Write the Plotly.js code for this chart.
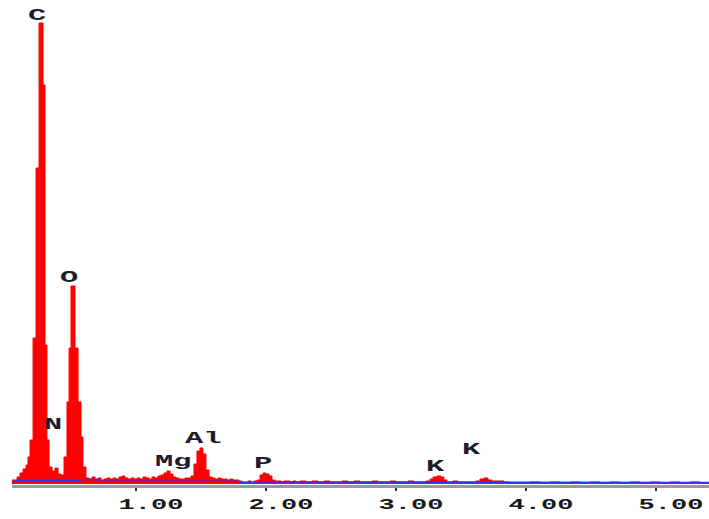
<!DOCTYPE html>
<html>
<head>
<meta charset="utf-8">
<script src="https://cdn.plot.ly/plotly-3.0.1.min.js"></script>
<style>
  html, body { margin: 0; padding: 0; background: #fff; }
  #chart { width: 709px; height: 519px; }
  g.xtick { transform-box: fill-box; transform-origin: center; transform: translateX(15px) scaleX(1.8); }
  .annotation-text { transform-box: fill-box; transform-origin: center; transform: scaleX(1.9); }
</style>
</head>
<body>
<div id="chart"></div>
<script>
// Spectrum as step segments: start energy (keV) and counts of each segment
const energyKeV = [
  0.046, 0.085, 0.108, 0.131, 0.154, 0.169, 0.185, 0.208, 0.231, 0.254,
  0.285, 0.300, 0.315, 0.331, 0.354, 0.377, 0.400, 0.423, 0.446, 0.469,
  0.485, 0.500, 0.531, 0.554, 0.577, 0.592,
  0.615, 0.638, 0.662, 0.685, 0.708, 0.731, 0.754, 0.777, 0.800, 0.823,
  0.846, 0.869, 0.892, 0.915, 0.938, 0.962, 0.985, 1.008, 1.031, 1.054,
  1.077, 1.100, 1.123, 1.146, 1.169, 1.192, 1.215, 1.238, 1.262, 1.285,
  1.308, 1.331, 1.354, 1.377, 1.400, 1.423, 1.446, 1.469, 1.492, 1.515,
  1.538, 1.562, 1.585, 1.608, 1.631, 1.654, 1.677, 1.700, 1.723, 1.746,
  1.769, 1.792, 1.815, 1.838, 1.862, 1.885, 1.908, 1.931, 1.954, 1.977,
  2.000, 2.023, 2.046, 2.069, 2.092, 2.115, 2.138, 2.162, 2.185, 2.208,
  2.231, 2.262, 2.308, 2.354, 2.400, 2.446, 2.492, 2.538, 2.585, 2.631,
  2.677, 2.723, 2.769, 2.815, 2.862, 2.908, 2.954, 3.000, 3.046, 3.092,
  3.138, 3.185, 3.231, 3.262, 3.285, 3.315, 3.346, 3.369, 3.392, 3.438,
  3.477, 3.523, 3.569, 3.615, 3.646, 3.677, 3.708, 3.738, 3.785, 3.831,
  3.877, 3.954, 4.031, 4.108, 4.185, 4.262, 4.338, 4.415, 4.492, 4.569,
  4.646, 4.723, 4.800, 4.877, 4.954, 5.031, 5.108, 5.185, 5.262, 5.338,
  5.410
];
const counts = [
  40, 70, 110, 150, 190, 270, 440, 1460, 3160, 4610,
  3990, 1390, 440, 170, 130, 160, 100, 90, 270, 820,
  1360, 1980, 1360, 820, 470, 170,
  60, 50, 70, 50, 60, 40, 50, 60, 50, 60,
  50, 70, 80, 60, 50, 60, 50, 60, 50, 70,
  60, 50, 70, 60, 80, 90, 110, 130, 100, 70,
  60, 50, 50, 60, 60, 80, 200, 330, 360, 300,
  140, 70, 60, 50, 60, 50, 50, 40, 50, 40,
  40, 30, 20, 20, 30, 20, 30, 40, 90, 110,
  100, 80, 40, 30, 30, 20, 30, 30, 20, 30,
  20, 30, 20, 30, 20, 30, 20, 20, 30, 20,
  30, 20, 20, 30, 20, 20, 30, 20, 20, 30,
  20, 20, 30, 50, 70, 80, 70, 40, 20, 30,
  20, 20, 20, 30, 50, 60, 40, 30, 30, 20,
  10, 10, 20, 10, 20, 10, 20, 10, 20, 10,
  20, 10, 20, 10, 20, 10, 20, 10, 20, 10,
  10
];

// Background fit (blue line)
const bgEnergyKeV = [0.046, 0.085, 0.56, 0.60, 0.70, 0.72, 1.78, 1.82, 1.92, 1.96, 2.20, 5.41];
const bgCounts    = [0,     35,    35,   45,   45,   30,   28,   15,   15,   20,   20,   14];

// Peak labels
const peakLabels = ["C", "O", "N", "Mg", "Al", "P", "K", "K"];
const peakLabelX = [0.238, 0.488, 0.358, 1.285, 1.515, 1.977, 3.304, 3.581];
const peakLabelY = [4680, 2060, 595, 220, 450, 200, 170, 345];

// Axis ticks
const tickValues = [1, 2, 3, 4, 5];
const tickLabels = ["1.00", "2.00", "3.00", "4.00", "5.00"];

const labelFont = { family: "Liberation Mono, Courier New, monospace", size: 16, color: "#1c1c2c", weight: "bold" };

const traces = [
  {
    type: "scatter", mode: "lines",
    x: energyKeV, y: counts,
    line: { shape: "hv", color: "rgb(255,0,0)", width: 1 },
    fill: "tozeroy", fillcolor: "rgb(255,0,0)",
    hoverinfo: "skip"
  },
  {
    type: "scatter", mode: "lines",
    x: bgEnergyKeV, y: bgCounts,
    line: { color: "rgb(50,50,255)", width: 1.5 },
    hoverinfo: "skip"
  }
];

const annotations = peakLabels.map((t, i) => ({
  text: t, x: peakLabelX[i], y: peakLabelY[i], xref: "x", yref: "y",
  showarrow: false, xanchor: "center", yanchor: "middle", font: labelFont
}));

const layout = {
  width: 709, height: 519,
  margin: { l: 12, r: 0, t: 0, b: 34, pad: 0 },
  paper_bgcolor: "#fff", plot_bgcolor: "#fff",
  showlegend: false,
  xaxis: {
    range: [0.046, 5.408], showgrid: false, zeroline: false,
    showline: true, linecolor: "#9a9a9a", linewidth: 3,
    ticks: "outside", ticklen: 3, tickwidth: 2, tickcolor: "#333",
    tickvals: tickValues, ticktext: tickLabels,
    tickfont: { family: "Liberation Mono, Courier New, monospace", size: 15, color: "#1a1a1a", weight: "bold" }
  },
  yaxis: { range: [-10, 4840], visible: false, fixedrange: true },
  annotations: annotations
};

Plotly.newPlot("chart", traces, layout, { staticPlot: true, displayModeBar: false });
</script>
</body>
</html>
